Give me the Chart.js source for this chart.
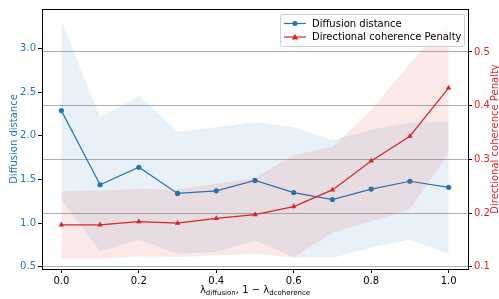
<!DOCTYPE html>
<html>
<head>
<meta charset="utf-8">
<script src="https://cdn.jsdelivr.net/npm/chart.js@4.4.1/dist/chart.umd.min.js"></script>
<style>
  html, body { margin: 0; padding: 0; background: #fff; }
  #wrap { width: 499px; height: 299px; }
</style>
</head>
<body>
<div id="wrap"><canvas id="lambdaChart" width="499" height="299"></canvas></div>
<script>
// lambda values (x axis)
const lambdas = [0.0, 0.1, 0.2, 0.3, 0.4, 0.5, 0.6, 0.7, 0.8, 0.9, 1.0];

// Diffusion distance (left axis): mean and shaded band
const diffMean  = [2.29, 1.44, 1.64, 1.34, 1.37, 1.49, 1.35, 1.27, 1.39, 1.48, 1.41];
const diffUpper = [3.32, 2.21, 2.46, 2.05, 2.10, 2.16, 2.10, 1.95, 2.07, 2.15, 2.16];
const diffLower = [1.27, 0.68, 0.81, 0.65, 0.67, 0.80, 0.61, 0.60, 0.72, 0.81, 0.65];

// Directional coherence penalty (right axis): mean and shaded band
const dirMean  = [0.178, 0.178, 0.184, 0.181, 0.190, 0.197, 0.212, 0.243, 0.297, 0.343, 0.433];
const dirUpper = [0.240, 0.242, 0.245, 0.244, 0.255, 0.265, 0.308, 0.323, 0.392, 0.479, 0.560];
const dirLower = [0.115, 0.115, 0.119, 0.118, 0.121, 0.124, 0.117, 0.163, 0.184, 0.207, 0.311];

// tick labels
const xTicks = [0.0, 0.2, 0.4, 0.6, 0.8, 1.0];
const leftTicks = [0.5, 1.0, 1.5, 2.0, 2.5, 3.0];
const rightTicks = [0.1, 0.2, 0.3, 0.4, 0.5];

const BLUE = '#1f77b4';
const RED = '#d62728';
const FONT = 'DejaVu Sans';

const pts = arr => arr.map((v, i) => ({ x: lambdas[i], y: v }));

// frame, axis titles (with subscripts) and legend drawn on top
const extras = {
    id: 'extras',
    afterDraw(chart) {
        const c = chart.ctx;
        const a = chart.chartArea;
        c.save();

        // axes frame
        c.strokeStyle = '#000';
        c.lineWidth = 1;
        c.strokeRect(a.left + 0.5, a.top + 0.5, a.right - a.left, a.bottom - a.top);

        const midY = (a.top + a.bottom) / 2;
        c.font = '10px "' + FONT + '"';
        c.textAlign = 'center';
        c.textBaseline = 'middle';

        // left title
        c.save();
        c.translate(14, midY);
        c.rotate(-Math.PI / 2);
        c.fillStyle = BLUE;
        c.fillText('Diffusion distance', 0, 0);
        c.restore();

        // right title
        c.save();
        c.translate(495.5, midY);
        c.rotate(-Math.PI / 2);
        c.fillStyle = RED;
        c.fillText('Directional coherence Penalty', 0, 0);
        c.restore();

        // x title: λ_diffusion, 1 − λ_dcoherence
        const parts = [
            ['\u03bb', 10, 0], ['diffusion', 7, 2.5],
            [', 1 \u2212 \u03bb', 10, 0], ['dcoherence', 7, 2.5]
        ];
        c.textAlign = 'left';
        c.textBaseline = 'alphabetic';
        c.fillStyle = '#000';
        let total = 0;
        parts.forEach(p => { c.font = p[1] + 'px "' + FONT + '"'; total += c.measureText(p[0]).width; });
        let x = (a.left + a.right) / 2 - total / 2;
        parts.forEach(p => {
            c.font = p[1] + 'px "' + FONT + '"';
            c.fillText(p[0], x, 292.5 + p[2]);
            x += c.measureText(p[0]).width;
        });

        // legend
        const bx = 280.5, by = 14.5, bw = 184, bh = 32;
        c.fillStyle = 'rgba(255,255,255,0.8)';
        c.strokeStyle = '#d0d0d0';
        c.lineWidth = 1;
        c.beginPath();
        c.roundRect(bx, by, bw, bh, 2);
        c.fill();
        c.stroke();

        const rows = [
            { label: 'Diffusion distance', color: BLUE, marker: 'circle', y: 23.5 },
            { label: 'Directional coherence Penalty', color: RED, marker: 'triangle', y: 37 }
        ];
        c.font = '10px "' + FONT + '"';
        c.textBaseline = 'middle';
        rows.forEach(r => {
            c.strokeStyle = r.color;
            c.fillStyle = r.color;
            c.lineWidth = 1.2;
            c.beginPath();
            c.moveTo(284, r.y);
            c.lineTo(306, r.y);
            c.stroke();
            c.beginPath();
            if (r.marker === 'circle') {
                c.arc(295, r.y, 2.5, 0, Math.PI * 2);
            } else {
                c.moveTo(295, r.y - 3.2);
                c.lineTo(298.3, r.y + 2.4);
                c.lineTo(291.7, r.y + 2.4);
                c.closePath();
            }
            c.fill();
            c.fillStyle = '#000';
            c.fillText(r.label, 312, r.y + 0.5);
        });

        c.restore();
    }
};

const ctx = document.getElementById('lambdaChart').getContext('2d');
const lambdaChart = new Chart(ctx, {
    type: 'line',
    data: {
        datasets: [
            { data: pts(diffUpper), yAxisID: 'y', fill: '+1', backgroundColor: 'rgba(31,119,180,0.1)',
              borderWidth: 0, pointRadius: 0, order: 4 },
            { data: pts(diffLower), yAxisID: 'y', fill: false, borderWidth: 0, pointRadius: 0, order: 4 },
            { label: 'Diffusion distance', data: pts(diffMean), yAxisID: 'y', fill: false,
              borderColor: BLUE, backgroundColor: BLUE, borderWidth: 1.2,
              pointStyle: 'circle', pointRadius: 2.6, pointBorderWidth: 0, order: 3 },
            { data: pts(dirUpper), yAxisID: 'y1', fill: '+1', backgroundColor: 'rgba(214,39,40,0.1)',
              borderWidth: 0, pointRadius: 0, order: 2 },
            { data: pts(dirLower), yAxisID: 'y1', fill: false, borderWidth: 0, pointRadius: 0, order: 2 },
            { label: 'Directional coherence Penalty', data: pts(dirMean), yAxisID: 'y1', fill: false,
              borderColor: RED, backgroundColor: RED, borderWidth: 1.2,
              pointStyle: 'triangle', pointRadius: 3.2, pointBorderWidth: 0, order: 1 }
        ]
    },
    options: {
        responsive: false,
        animation: false,
        layout: { padding: { top: 9, left: 0, right: 0, bottom: 0 } },
        plugins: {
            legend: { display: false },
            tooltip: { enabled: false }
        },
        scales: {
            x: {
                type: 'linear',
                min: -0.05,
                max: 1.05,
                afterBuildTicks: s => { s.ticks = xTicks.map(v => ({ value: v })); },
                afterFit: s => { s.height = 30; },
                ticks: { color: '#000', font: { family: FONT, size: 10 }, padding: 2,
                         maxRotation: 0, callback: v => v.toFixed(1) },
                grid: { drawOnChartArea: false, tickLength: 4, tickColor: '#000' },
                border: { color: '#000' }
            },
            y: {
                type: 'linear',
                position: 'left',
                min: 0.474,
                max: 3.455,
                afterBuildTicks: s => { s.ticks = leftTicks.map(v => ({ value: v })); },
                afterFit: s => { s.width = 42; },
                ticks: { color: BLUE, font: { family: FONT, size: 10 }, padding: 2,
                         callback: v => v.toFixed(1) },
                grid: { drawOnChartArea: false, tickLength: 4, tickColor: '#000' },
                border: { color: '#000' }
            },
            y1: {
                type: 'linear',
                position: 'right',
                min: 0.0957,
                max: 0.58,
                afterBuildTicks: s => { s.ticks = rightTicks.map(v => ({ value: v })); },
                afterFit: s => { s.width = 31; },
                ticks: { color: RED, font: { family: FONT, size: 10 }, padding: 2,
                         callback: v => v.toFixed(1) },
                grid: { color: '#b0b0b0', lineWidth: 1, tickLength: 4, tickColor: '#000' },
                border: { color: '#000' }
            }
        }
    },
    plugins: [extras]
});
</script>
</body>
</html>
